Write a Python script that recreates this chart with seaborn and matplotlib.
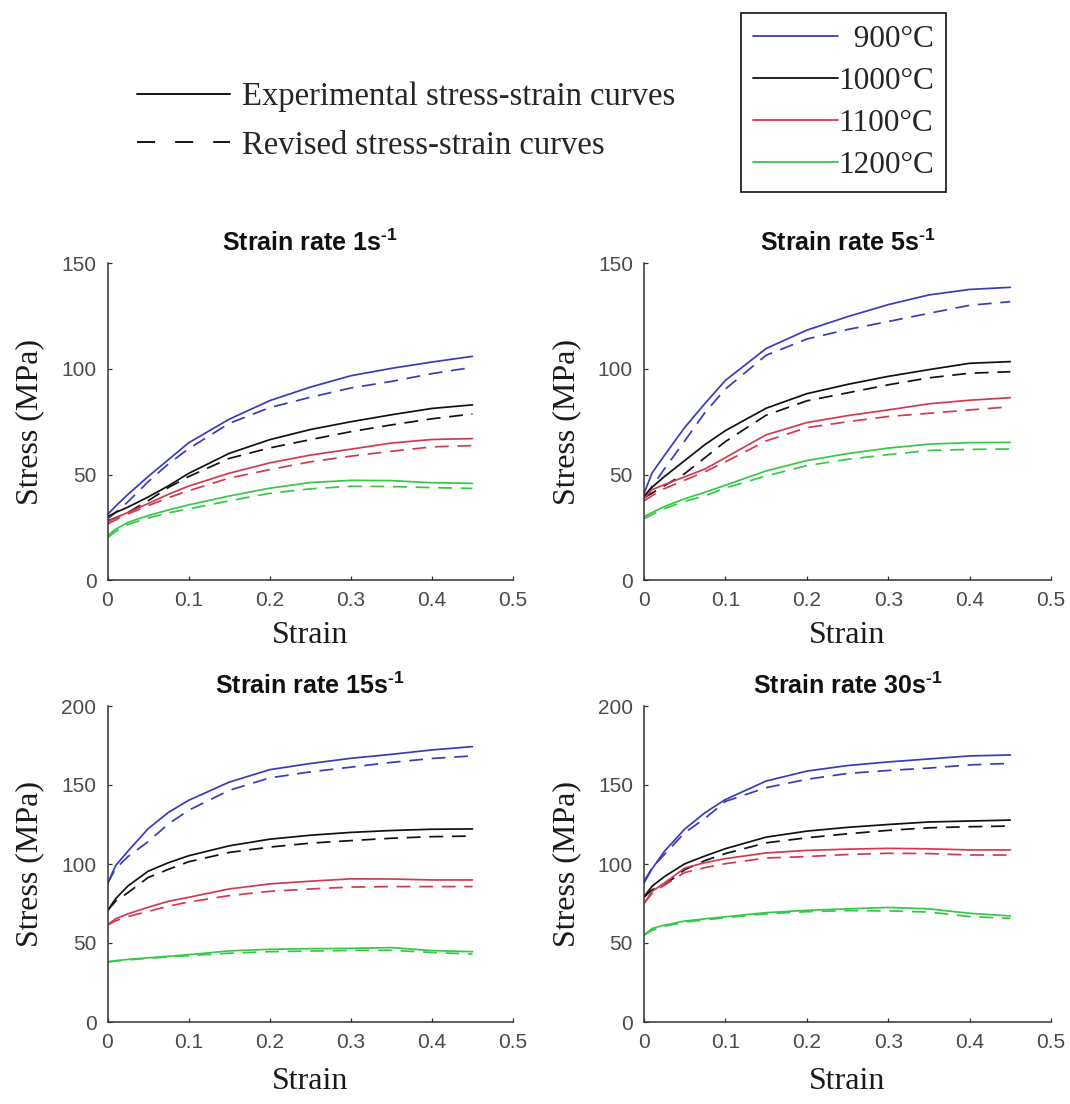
import matplotlib
matplotlib.use("Agg")
import matplotlib.pyplot as plt
import numpy as np
import pandas as pd
import seaborn as sns
from matplotlib.lines import Line2D
from matplotlib.ticker import FuncFormatter, MultipleLocator

# ---------------------------------------------------------------------------
# Data: true strain grid and flow stress (MPa) for each deformation temperature
# Rows inside each table: 900, 1000, 1100, 1200 degC
# ---------------------------------------------------------------------------
strain = [0, 0.01, 0.025, 0.05, 0.075, 0.1, 0.15, 0.2, 0.25, 0.3, 0.35, 0.4, 0.45]
temperatures = [900, 1000, 1100, 1200]
temp_colors = ["#3b3bb8", "#111111", "#d23a50", "#35c947"]
strain_rates = ["1", "5", "15", "30"]

# strain rate 1 s^-1
exp_rate1 = [
    [31, 35, 40.5, 49, 57, 65, 76.2, 85, 91.4, 96.8, 100.3, 103.3, 106],
    [30, 32, 34.5, 39.3, 44.6, 50.5, 60, 66.5, 71.3, 75, 78.3, 81.3, 83],
    [27.5, 29.5, 32, 36.2, 40.6, 44.5, 50.6, 55.5, 59.2, 62, 64.9, 66.6, 67],
    [21, 24, 27.3, 30.5, 33.2, 35.6, 39.8, 43.5, 46.2, 47.2, 47.1, 46.1, 45.8],
]
rev_rate1 = [
    [29, 32, 37, 46.5, 55, 62.2, 74.2, 81.7, 86.6, 91, 94.1, 97.8, 100.8],
    [28, 29.5, 32, 37.5, 43.8, 49, 57.6, 62.6, 66.5, 70.3, 73.5, 76.4, 78.7],
    [26.5, 28.5, 31.3, 35.2, 39, 42.3, 48.3, 52.3, 56, 58.7, 61, 63.1, 63.7],
    [20, 23, 26.3, 29.4, 31.8, 33.7, 37.5, 41.1, 43.2, 44.4, 44.3, 43.8, 43.4],
]

# strain rate 5 s^-1
exp_rate5 = [
    [41, 50.8, 59, 72.3, 83.7, 94.6, 109.7, 118.4, 124.8, 130.5, 135.1, 137.7, 138.7],
    [39.5, 44, 49, 56.6, 64.2, 70.8, 81.4, 88.3, 92.7, 96.5, 99.7, 102.7, 103.5],
    [38.5, 42.8, 45.2, 48.9, 52.6, 58, 68.8, 74.6, 77.9, 80.6, 83.5, 85.2, 86.4],
    [30, 32, 34.8, 38.5, 41.6, 44.9, 51.7, 56.6, 59.9, 62.5, 64.4, 65.1, 65.2],
]
rev_rate5 = [
    [39.5, 44.4, 52.6, 65.9, 79.4, 90.5, 106.5, 114.2, 118.7, 122.5, 126.4, 130.2, 131.9],
    [39, 41.2, 44.7, 50.4, 58, 65.6, 78.1, 84.9, 88.7, 92.5, 95.8, 98, 98.7],
    [37.5, 40, 43.3, 47.3, 51.3, 56, 65.9, 72.2, 75, 77.5, 79, 80.6, 82.1],
    [29, 31, 33.8, 37.3, 39.9, 43.6, 49.3, 54.2, 57.2, 59.4, 61.4, 61.9, 62.1],
]

# strain rate 15 s^-1
exp_rate15 = [
    [87.5, 99, 108, 122.3, 132.6, 140.3, 151.8, 159.7, 163.6, 166.9, 169.4, 172.2, 174.3],
    [70.5, 78, 86, 95.4, 100.8, 105.2, 111.5, 115.7, 118.2, 120, 121.2, 122, 122.2],
    [61.5, 65.3, 68.4, 72.6, 76.4, 78.9, 84.2, 87.4, 89.1, 90.6, 90.5, 89.9, 89.9],
    [38, 38.8, 39.6, 40.6, 41.6, 42.6, 45, 46, 46.4, 46.6, 47.1, 45.2, 44.5],
]
rev_rate15 = [
    [87.8, 97, 104.6, 114.1, 125.3, 134, 146.6, 154.5, 158.3, 161.3, 164.3, 166.8, 168.4],
    [70.5, 76.5, 81.8, 91.4, 96.6, 101.4, 107.3, 110.7, 113.2, 114.8, 116.3, 117.3, 117.7],
    [61.4, 64, 66.7, 70, 73.3, 75.9, 80, 82.7, 84.2, 85.4, 85.7, 85.7, 85.7],
    [38, 38.6, 39.3, 40.3, 41.2, 42, 43.5, 44.5, 44.9, 45.3, 45.4, 44, 43],
]

# strain rate 30 s^-1
exp_rate30 = [
    [88, 97, 108, 122.1, 132.5, 140.8, 152.5, 158.8, 162.3, 164.6, 166.5, 168.4, 169],
    [79.3, 86, 92, 100.1, 105.1, 109.7, 117, 120.8, 123.2, 125, 126.6, 127.2, 127.8],
    [75, 82.7, 88, 97.4, 100.9, 103.4, 107, 108.6, 109.4, 109.9, 109.6, 108.9, 108.9],
    [55, 59.2, 61.3, 63.9, 65.3, 66.6, 69.2, 70.7, 71.6, 72.5, 71.6, 68.8, 67.1],
]
rev_rate30 = [
    [89, 97.6, 106, 119.8, 128.9, 139.6, 148.3, 153.6, 157.3, 159.2, 160.7, 162.7, 163.7],
    [79, 83.7, 86.7, 96.4, 102.2, 106.6, 113.4, 116.6, 119.1, 121.3, 122.9, 123.6, 124],
    [75, 81.5, 86.6, 94.6, 97.7, 100.2, 103.8, 104.7, 106, 106.8, 106.6, 105.7, 105.7],
    [55, 58, 60.6, 63.2, 64.6, 66, 68.5, 69.8, 70.5, 70.3, 69.6, 66.7, 65.6],
]

y_limits = [150, 150, 200, 200]

# ---------------------------------------------------------------------------
sns.set_theme(style="ticks")
plt.rcParams["font.family"] = ["Liberation Sans", "DejaVu Sans"]
plt.rcParams["mathtext.fontset"] = "custom"
plt.rcParams["mathtext.rm"] = "Liberation Sans"
plt.rcParams["mathtext.bf"] = "Liberation Sans:bold"

SERIF = ["Liberation Serif", "DejaVu Serif"]
W, H = 1070, 1104
fig = plt.figure(figsize=(W / 100, H / 100), dpi=100)
fig.patch.set_facecolor("white")


def long_table(exp_rows, rev_rows):
    frames = []
    for kind, rows in (("Experimental", exp_rows), ("Revised", rev_rows)):
        for t, vals in zip(temperatures, rows):
            frames.append(pd.DataFrame({"Strain": strain, "Stress": vals,
                                        "Temperature": t, "Curve": kind}))
    return pd.concat(frames, ignore_index=True)


tables = [long_table(exp_rate1, rev_rate1), long_table(exp_rate5, rev_rate5),
          long_table(exp_rate15, rev_rate15), long_table(exp_rate30, rev_rate30)]

# panel boxes in pixels: left, top, right, bottom
boxes = [(107.5, 263.5, 513, 580), (644, 263.5, 1051, 580),
         (107.5, 706, 513, 1022), (644, 706, 1051, 1022)]

palette = dict(zip(temperatures, temp_colors))
dash_map = {"Experimental": "", "Revised": (8, 5)}
inverse_seconds = "$^{\\mathbf{\u20101}}$"

for i, (df, box, ymax, rate) in enumerate(zip(tables, boxes, y_limits, strain_rates)):
    l, t, r, b = box
    ax = fig.add_axes([l / W, 1 - b / H, (r - l) / W, (b - t) / H])
    sns.lineplot(data=df, x="Strain", y="Stress", hue="Temperature", style="Curve",
                 palette=palette, dashes=dash_map, estimator=None, sort=False,
                 legend=False, linewidth=1.25, ax=ax)
    ax.set_xlim(0, 0.5)
    ax.set_ylim(0, ymax)
    ax.xaxis.set_major_locator(MultipleLocator(0.1))
    ax.yaxis.set_major_locator(MultipleLocator(50))
    ax.xaxis.set_major_formatter(FuncFormatter(lambda v, p: "0" if abs(v) < 1e-9 else f"{v:g}"))
    sns.despine(ax=ax)
    for s in ("left", "bottom"):
        ax.spines[s].set_color("#333333")
        ax.spines[s].set_linewidth(1.1)
    ax.tick_params(direction="in", length=3, width=0.9, color="#333333",
                   labelsize=15, labelcolor="#4a4a4a", pad=8)
    ax.set_xlabel("Strain", fontsize=23, family=SERIF, color="#1a1a1a",
                  labelpad=8 if i < 2 else 11)
    ax.set_ylabel("Stress (MPa)", fontsize=23, family=SERIF, color="#1a1a1a",
                  labelpad=12)
    ax.set_title("Strain rate " + rate + "s" + inverse_seconds,
                 fontsize=18, fontweight="bold", color="#111111", pad=9)

# line-style key
style_handles = [Line2D([], [], color="#111111", lw=1.4),
                 Line2D([], [], color="#111111", lw=1.4, linestyle=(0, (9.3, 10.3)))]
fig.legend(style_handles,
           ["Experimental stress-strain curves", "Revised stress-strain curves"],
           loc="upper left", bbox_to_anchor=(137 / W, 1 - 82 / H),
           frameon=False, prop={"family": SERIF, "size": 23.5},
           handlelength=2.85, handletextpad=0.37, labelspacing=0.54,
           borderpad=0, borderaxespad=0)

# temperature key
temp_handles = [Line2D([], [], color=c, lw=1.3) for c in temp_colors]
temp_labels = [f"{t}°C" if t >= 1000 else f"  {t}°C" for t in temperatures]
leg = fig.legend(temp_handles, temp_labels,
                 loc="upper left", bbox_to_anchor=(741 / W, 1 - 12.7 / H),
                 frameon=True, fancybox=False, prop={"family": SERIF, "size": 22.5},
                 handlelength=2.72, handletextpad=0.0, labelspacing=0.42,
                 borderpad=0.38, borderaxespad=0)
leg.get_frame().set_edgecolor("#222222")
leg.get_frame().set_linewidth(1.3)
leg.get_frame().set_facecolor("white")
leg.get_frame().set_alpha(1)

fig.savefig("out.png", dpi=100, facecolor="white")
